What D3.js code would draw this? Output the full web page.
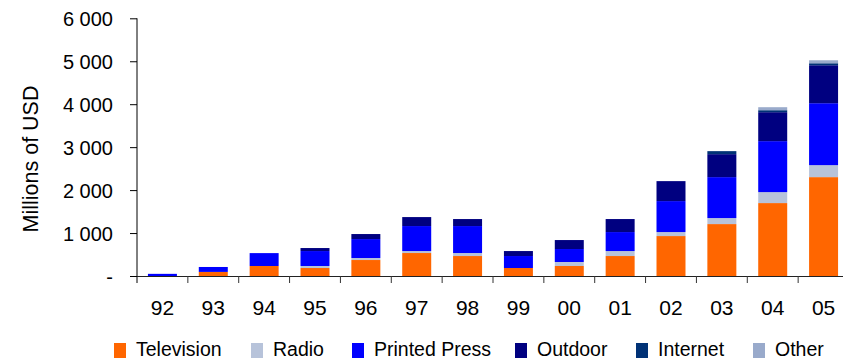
<!DOCTYPE html>
<html>
<head>
<meta charset="utf-8">
<script src="https://cdn.jsdelivr.net/npm/d3@7"></script>
<style>
  body { margin: 0; background: #fff; }
  svg { display: block; font-family: Arial, "Liberation Sans", sans-serif; }
</style>
</head>
<body>
<svg id="chart" width="843" height="360"></svg>
<script>
const years = ['92', '93', '94', '95', '96', '97', '98', '99', '00', '01', '02', '03', '04', '05'];
const television = [0, 95, 233, 186, 372, 535, 465, 186, 233, 465, 930, 1209, 1698, 2302];
const radio = [0, 0, 0, 47, 47, 46, 70, 0, 93, 116, 93, 140, 255, 279];
const printedPress = [50, 115, 300, 348, 441, 582, 628, 279, 302, 442, 721, 953, 1187, 1442];
const outdoor = [0, 0, 0, 70, 117, 209, 163, 116, 209, 303, 465, 535, 674, 884];
const internet = [0, 0, 0, 0, 0, 0, 0, 0, 0, 0, 0, 70, 46, 46];
const other = [0, 0, 0, 0, 0, 0, 0, 0, 0, 0, 0, 0, 70, 70];
const yTicks = [0, 1000, 2000, 3000, 4000, 5000, 6000];

const series = [
  { name: 'Television', values: television, color: '#FF6600' },
  { name: 'Radio', values: radio, color: '#B7C3DA' },
  { name: 'Printed Press', values: printedPress, color: '#0000FF' },
  { name: 'Outdoor', values: outdoor, color: '#000080' },
  { name: 'Internet', values: internet, color: '#003276' },
  { name: 'Other', values: other, color: '#99AACB' }
];

const rows = years.map((y, i) => {
  const r = { year: y };
  series.forEach(s => { r[s.name] = s.values[i]; });
  return r;
});

const svg = d3.select('#chart');

const x = d3.scaleBand()
  .domain(years)
  .range([137, 849])
  .paddingInner(0.43)
  .paddingOuter(0.215);

const y = d3.scaleLinear()
  .domain([0, 6000])
  .range([276, 18.3]);

const layers = d3.stack().keys(series.map(s => s.name))(rows);

svg.append('g')
  .selectAll('g')
  .data(layers)
  .join('g')
  .attr('fill', (d, i) => series[i].color)
  .selectAll('rect')
  .data(d => d)
  .join('rect')
  .attr('x', d => x(d.data.year))
  .attr('width', x.bandwidth())
  .attr('y', d => y(d[1]))
  .attr('height', d => y(d[0]) - y(d[1]));

// y axis
const yAxis = svg.append('g')
  .attr('transform', 'translate(137,0)')
  .call(d3.axisLeft(y).tickValues(yTicks).tickSize(7).tickPadding(17)
    .tickFormat(v => v === 0 ? '-' : d3.format(',')(v).replace(',', ' ')));
yAxis.select('.domain').attr('d', `M0,${y(6000)}V283`).attr('stroke', '#000');
yAxis.selectAll('.tick line').attr('stroke', '#000');
yAxis.selectAll('.tick text')
  .attr('fill', '#000')
  .style('font-size', '20px')
  .attr('dy', '0.35em');

// x axis
const step = x.step();
const xg = svg.append('g');
xg.append('line')
  .attr('x1', 137).attr('x2', 849)
  .attr('y1', 276.5).attr('y2', 276.5)
  .attr('stroke', '#222').attr('stroke-width', 1.2);
xg.selectAll('line.tk')
  .data(d3.range(1, years.length))
  .join('line')
  .attr('class', 'tk')
  .attr('x1', i => 137 + i * step)
  .attr('x2', i => 137 + i * step)
  .attr('y1', 276).attr('y2', 283)
  .attr('stroke', '#333');
xg.selectAll('text')
  .data(years)
  .join('text')
  .attr('x', d => x(d) + x.bandwidth() / 2)
  .attr('y', 315)
  .attr('text-anchor', 'middle')
  .style('font-size', '21px')
  .text(d => d);

svg.append('text')
  .attr('transform', 'translate(38,159) rotate(-90)')
  .attr('text-anchor', 'middle')
  .style('font-size', '21.5px')
  .text('Millions of USD');

// legend
const legendX = [114, 251, 352, 515, 636, 753];
const legend = svg.append('g')
  .selectAll('g')
  .data(series)
  .join('g')
  .attr('transform', (d, i) => `translate(${legendX[i]},343)`);
legend.append('rect')
  .attr('width', 12).attr('height', 15)
  .attr('fill', d => d.color);
legend.append('text')
  .attr('x', 22).attr('y', 13)
  .style('font-size', '19.5px')
  .text(d => d.name);
</script>
</body>
</html>
